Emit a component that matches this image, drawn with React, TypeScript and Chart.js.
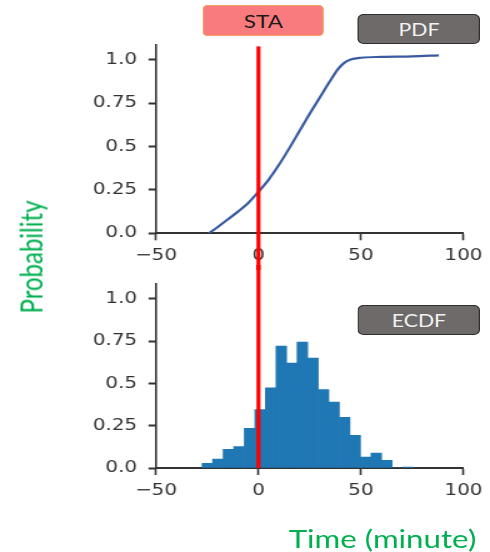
import React, { useEffect, useRef } from "react";
import { Chart, registerables } from "chart.js";

Chart.register(...registerables);

// Cumulative curve (upper panel)
const cdfTime = [-24.3, -20, -15, -10, -5, 0, 5, 10, 15, 20, 25, 30, 35, 39, 42, 45, 50, 60, 75, 88];
const cdfProb = [0, 0.035, 0.08, 0.125, 0.175, 0.24, 0.31, 0.395, 0.49, 0.59, 0.69, 0.785, 0.88, 0.95, 0.985, 1.003, 1.013, 1.018, 1.021, 1.027];

// Histogram (lower panel): bin centres and heights
const binCenters = [
  -24.93, -19.78, -14.63, -9.48, -4.33, 0.83, 5.98, 11.13, 16.28, 21.43,
  26.58, 31.73, 36.88, 42.03, 47.18, 52.33, 57.48, 62.63, 67.78, 72.93,
];
const binHeights = [
  0.027, 0.052, 0.11, 0.127, 0.235, 0.345, 0.474, 0.72, 0.62, 0.745,
  0.65, 0.464, 0.39, 0.3, 0.193, 0.064, 0.088, 0.046, 0, 0.006,
];

// Axis ranges and ticks
const xMin = -50;
const xMax = 100;
const xStep = 50;
const yMin = 0;
const yMax = 1.09;
const yStep = 0.25;
const yTickText: Record<string, string> = { "0": "0.0", "0.25": "0.25", "0.5": "0.5", "0.75": "0.75", "1": "1.0" };
const markerTime = 0;

const AXIS_COLOR = "#333333";
const TICK_FONT = { family: "'DejaVu Sans', sans-serif", size: 16 };
const LABEL_FONT = "Lato, 'Open Sans', sans-serif";
const GREEN = "#00b050";

const markerLine = (mode: "top" | "bottom") => ({
  id: "markerLine" + mode,
  afterDraw(chart: any) {
    const { ctx, chartArea, scales } = chart;
    const x = scales.x.getPixelForValue(markerTime);
    const y0 = mode === "top" ? chartArea.top + 2 : 0;
    const y1 = mode === "top" ? chart.height : chartArea.bottom;
    ctx.save();
    ctx.strokeStyle = "#ff0000";
    ctx.lineWidth = 3.2;
    ctx.beginPath();
    ctx.moveTo(x, y0);
    ctx.lineTo(x, y1);
    ctx.stroke();
    ctx.restore();
  },
});

function scaleOptions(xAxisHeight: number) {
  return {
    x: {
      type: "linear" as const,
      min: xMin,
      max: xMax,
      offset: false,
      z: 1,
      ticks: {
        stepSize: xStep,
        includeBounds: false,
        maxRotation: 0,
        padding: 6,
        color: AXIS_COLOR,
        font: TICK_FONT,
        callback: (v: any) => (Number(v) < 0 ? "\u2212" + Math.abs(Number(v)) : String(v)),
      },
      grid: {
        offset: false,
        drawOnChartArea: false,
        drawTicks: true,
        tickLength: 7,
        tickWidth: 1.6,
        tickColor: AXIS_COLOR,
      },
      border: { display: true, color: AXIS_COLOR, width: 2 },
      afterFit: (s: any) => {
        s.height = xAxisHeight;
      },
    },
    y: {
      type: "linear" as const,
      min: yMin,
      max: yMax,
      ticks: {
        stepSize: yStep,
        includeBounds: false,
        padding: 9,
        color: AXIS_COLOR,
        font: TICK_FONT,
        callback: (v: any) => yTickText[String(v)] ?? String(v),
      },
      grid: {
        drawOnChartArea: false,
        drawTicks: true,
        tickLength: 6,
        tickWidth: 2,
        tickColor: AXIS_COLOR,
      },
      border: { display: true, color: AXIS_COLOR, width: 1.6 },
      afterFit: (s: any) => {
        s.width = 124.8;
      },
    },
  };
}

const boxBase: React.CSSProperties = {
  position: "absolute",
  display: "flex",
  alignItems: "center",
  justifyContent: "center",
  boxSizing: "border-box",
  fontFamily: LABEL_FONT,
};

export default function App() {
  const topRef = useRef<HTMLCanvasElement>(null);
  const botRef = useRef<HTMLCanvasElement>(null);

  useEffect(() => {
    const top = new Chart(topRef.current!, {
      type: "line",
      data: {
        datasets: [
          {
            data: cdfTime.map((t, i) => ({ x: t, y: cdfProb[i] })),
            borderColor: "#3a5aa0",
            borderWidth: 2.2,
            pointRadius: 0,
            fill: false,
            cubicInterpolationMode: "monotone",
          },
        ],
      },
      options: {
        animation: false,
        responsive: true,
        maintainAspectRatio: false,
        layout: { padding: { top: 44.4, right: 15.2, left: 0, bottom: 0 } },
        plugins: { legend: { display: false }, tooltip: { enabled: false } },
        scales: scaleOptions(36.7) as any,
      },
      plugins: [markerLine("top")],
    });

    const bottom = new Chart(botRef.current!, {
      type: "bar",
      data: {
        datasets: [
          {
            data: binCenters.map((c, i) => ({ x: c, y: binHeights[i] })),
            backgroundColor: "#1f77b4",
            borderWidth: 0,
            barPercentage: 1,
            categoryPercentage: 1,
          },
        ],
      },
      options: {
        animation: false,
        responsive: true,
        maintainAspectRatio: false,
        layout: { padding: { top: 13.3, right: 15.2, left: 0, bottom: 0 } },
        plugins: { legend: { display: false }, tooltip: { enabled: false } },
        scales: scaleOptions(84) as any,
      },
      plugins: [markerLine("bottom")],
    });

    return () => {
      top.destroy();
      bottom.destroy();
    };
  }, []);

  return (
    <div style={{ position: "fixed", left: 0, top: 0, width: 490, height: 552, overflow: "hidden", background: "#fff" }}>
      <div style={{ position: "absolute", left: 0, top: 0, width: 392, height: 552, transform: "scaleX(1.25)", transformOrigin: "0 0" }}>
        <div style={{ position: "absolute", left: 0, top: 0, width: 392, height: 270 }}>
          <canvas ref={topRef} />
        </div>
        <div style={{ position: "absolute", left: 0, top: 265, width: 392, height: 287 }}>
          <canvas ref={botRef} />
        </div>

        <div
          style={{
            ...boxBase,
            left: 162.2,
            top: 5,
            width: 97,
            height: 31,
            background: "#f97b7e",
            border: "1px solid #f0a060",
            borderRadius: 4,
            color: "#1a1a1a",
            fontSize: 18,
          }}
        >
          STA
        </div>
        <div
          style={{
            ...boxBase,
            left: 286.4,
            top: 14,
            width: 97.6,
            height: 30,
            background: "#6e6a69",
            border: "1.5px solid #2f2f2f",
            borderRadius: 5,
            color: "#f2f2f2",
            fontSize: 17,
          }}
        >
          PDF
        </div>
        <div
          style={{
            ...boxBase,
            left: 286.4,
            top: 305,
            width: 97.6,
            height: 30,
            background: "#6e6a69",
            border: "1.5px solid #2f2f2f",
            borderRadius: 5,
            color: "#f2f2f2",
            fontSize: 17,
          }}
        >
          ECDF
        </div>

        <div
          style={{
            position: "absolute",
            left: 24.8,
            top: 257,
            transform: "translate(-50%, -50%) rotate(-90deg)",
            color: GREEN,
            fontFamily: LABEL_FONT,
            fontSize: 24,
            whiteSpace: "nowrap",
            lineHeight: 1,
          }}
        >
          Probability
        </div>
        <div
          style={{
            position: "absolute",
            left: 306,
            top: 538,
            transform: "translate(-50%, -50%)",
            color: GREEN,
            fontFamily: LABEL_FONT,
            fontSize: 25,
            whiteSpace: "nowrap",
            lineHeight: 1,
          }}
        >
          Time (minute)
        </div>
      </div>
    </div>
  );
}
